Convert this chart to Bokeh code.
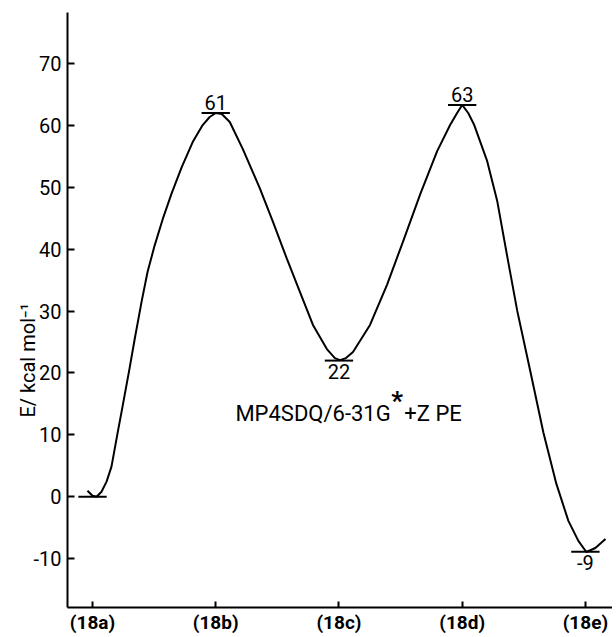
from bokeh.plotting import figure
from bokeh.models import Range1d, FixedTicker, Label, Title
from bokeh.core.properties import value
from bokeh.embed import file_html
from bokeh.resources import INLINE

# ---- data ----
species = ["(18a)", "(18b)", "(18c)", "(18d)", "(18e)"]
species_pos = [0, 1, 2, 3, 4]
level_energy = [0.0, 62.0, 22.0, 63.3, -8.9]          # drawn level of each stationary point
level_text = ["", "61", "22", "63", "-9"]              # printed energies (kcal/mol)
text_above = [True, True, False, True, False]
y_ticks = [-10, 0, 10, 20, 30, 40, 50, 60, 70]
y_tick_text = ["-10", "0", "10", "20", "30", "40", "50", "60", "70"]

# hand-drawn energy profile, read point by point
curve_x = [-0.041, 0.000, 0.033, 0.073, 0.114, 0.154, 0.203, 0.244, 0.301, 0.341,
           0.398, 0.447, 0.504, 0.569, 0.642, 0.724, 0.813, 0.894, 0.951, 1.000,
           1.049, 1.114, 1.220, 1.358, 1.463, 1.577, 1.683, 1.789, 1.902, 1.967,
           2.008, 2.057, 2.114, 2.252, 2.390, 2.520, 2.659, 2.797, 2.902, 2.959,
           3.000, 3.049, 3.098, 3.203, 3.285, 3.366, 3.447, 3.553, 3.659, 3.764,
           3.862, 3.943, 4.008, 4.081, 4.163]
curve_y = [0.97, 0.16, 0.00, 0.81, 2.44, 4.87, 10.23, 14.61, 20.78, 25.32,
           31.49, 36.36, 40.58, 44.81, 49.03, 53.25, 57.31, 60.06, 61.36, 62.01,
           61.85, 60.55, 56.17, 49.84, 44.48, 38.47, 33.12, 27.76, 23.86, 22.40,
           22.08, 22.40, 23.38, 27.76, 34.25, 41.23, 48.86, 55.84, 60.06, 62.01,
           63.31, 62.01, 60.06, 54.22, 47.73, 38.80, 30.03, 20.29, 10.39, 2.11,
           -3.90, -7.14, -8.93, -8.28, -6.82]

method_text_a = "MP4SDQ/6-31G"
method_star = "*"
method_text_b = "+Z PE"
y_title = "E/ kcal mol\u207b\u00b9"

FONT = "Roboto"

p = figure(width=612, height=636, output_backend="svg", toolbar_location=None,
           x_range=Range1d(-0.203, 4.22), y_range=Range1d(-17.9, 78.25),
           min_border_left=67, min_border_right=0, min_border_top=12,
           min_border_bottom=25)
p.outline_line_color = None
p.grid.visible = False
p.background_fill_color = "white"
p.border_fill_color = "white"

# axes
for ax in (p.xaxis[0], p.yaxis[0]):
    ax.axis_line_width = 2
    ax.axis_line_color = "black"
    ax.major_tick_line_width = 2
    ax.major_tick_line_color = "black"
    ax.minor_tick_line_color = None
    ax.major_tick_out = 0
    ax.major_label_text_color = "black"

p.yaxis.ticker = FixedTicker(ticks=y_ticks)
p.yaxis.major_label_overrides = {t: s for t, s in zip(y_ticks, y_tick_text)}
p.yaxis.major_tick_in = 7
p.yaxis.major_label_text_font = FONT
p.yaxis.major_label_text_font_size = "20px"
p.yaxis.major_label_standoff = 6

p.xaxis.ticker = FixedTicker(ticks=species_pos)
p.xaxis.major_label_overrides = {i: s for i, s in zip(species_pos, species)}
p.xaxis.major_tick_in = 6
p.xaxis.major_label_text_font = FONT
p.xaxis.major_label_text_font_style = "bold"
p.xaxis.major_label_text_font_size = "19px"
p.xaxis.major_label_standoff = 3

# y-axis title, placed low along the axis like the reference
p.add_layout(Title(text=y_title, align="left", offset=190, standoff=-18,
                   text_font=FONT, text_font_style="normal", text_font_size="20px",
                   text_color="black"), "left")

# energy profile
p.line(curve_x, curve_y, line_color="black", line_width=2)

# stationary-point levels
half = 0.115
p.segment(x0=[x - half for x in species_pos], x1=[x + half for x in species_pos],
          y0=level_energy, y1=level_energy, line_color="black", line_width=2)

# level values
ax_x = [x for x, t, a in zip(species_pos, level_text, text_above) if t and a]
ax_y = [y for y, t, a in zip(level_energy, level_text, text_above) if t and a]
ax_t = [t for t, a in zip(level_text, text_above) if t and a]
bx_x = [x for x, t, a in zip(species_pos, level_text, text_above) if t and not a]
bx_y = [y for y, t, a in zip(level_energy, level_text, text_above) if t and not a]
bx_t = [t for t, a in zip(level_text, text_above) if t and not a]
p.text(ax_x, ax_y, text=ax_t, text_align="center", text_baseline="bottom",
       y_offset=-3, text_font=value(FONT), text_font_size="20px", text_color="black")
p.text(bx_x, bx_y, text=bx_t, text_align="center", text_baseline="top",
       y_offset=3, text_font=value(FONT), text_font_size="20px", text_color="black")

# method annotation
p.add_layout(Label(x=2.42, y=13.5, text=method_text_a, text_align="right",
                   text_baseline="alphabetic", text_font=FONT,
                   text_font_size="22px", text_color="black"))
p.add_layout(Label(x=2.425, y=15.4, text=method_star, text_align="left",
                   text_baseline="alphabetic", text_font=FONT, text_font_style="bold",
                   text_font_size="26px", text_color="black"))
p.add_layout(Label(x=2.53, y=13.5, text=method_text_b, text_align="left",
                   text_baseline="alphabetic", text_font=FONT,
                   text_font_size="22px", text_color="black"))

open("out.html", "w").write(file_html(p, INLINE))
